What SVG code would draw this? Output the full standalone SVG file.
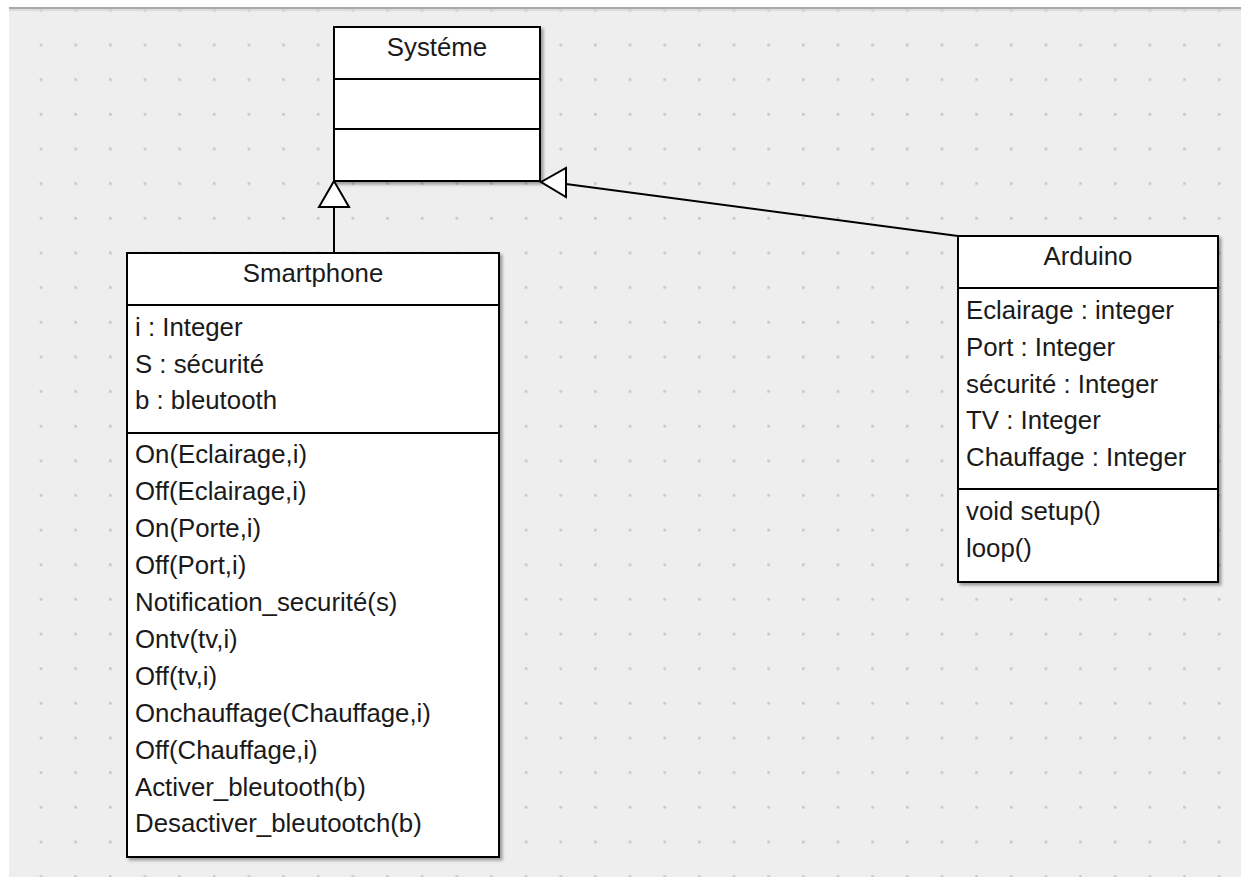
<svg xmlns="http://www.w3.org/2000/svg" width="1241" height="877" viewBox="0 0 1241 877">
<style>
.box{fill:#ffffff;stroke:#000000;stroke-width:2;filter:url(#sh)}
.div{stroke:#000000;stroke-width:2}
.t{font-family:"Liberation Sans",Arial,sans-serif;font-size:25.8px;fill:#1a1a1a}
.c{text-anchor:middle}
.edge{stroke:#000000;stroke-width:2;fill:none}
.tri{fill:#ffffff;stroke:#000000;stroke-width:2;stroke-linejoin:miter}
</style>
<defs>
<filter id="sh" x="-10%" y="-10%" width="130%" height="130%">
<feDropShadow dx="2.5" dy="2.5" stdDeviation="1.5" flood-color="#000000" flood-opacity="0.35"/>
</filter>
<pattern id="grid" x="39.7" y="43.7" width="34.65" height="34.65" patternUnits="userSpaceOnUse">
<rect x="0" y="0" width="2.6" height="2.6" fill="#c6c6c6"/>
</pattern>
</defs>
<rect x="0" y="0" width="1241" height="877" fill="#ffffff"/>
<rect x="9" y="9" width="1232" height="868" fill="#eeeeee"/>
<rect x="9" y="9" width="1232" height="868" fill="url(#grid)"/>
<line x1="9" y1="8" x2="1241" y2="8" stroke="#a9a9a9" stroke-width="2"/>
<line x1="9" y1="10" x2="1241" y2="10" stroke="#d6d6d6" stroke-width="1.5"/>

<g id="connectors">
<line class="edge" x1="334" y1="207" x2="334" y2="253"/>
<polygon class="tri" points="334,181 319,207 349,207"/>
<line class="edge" x1="566" y1="184" x2="958" y2="236"/>
<polygon class="tri" points="541,182 566,168 566,197"/>
</g>

<g id="systeme">
<rect class="box" x="334" y="27" width="206" height="154"/>
<line class="div" x1="334" y1="79" x2="540" y2="79"/>
<line class="div" x1="334" y1="129" x2="540" y2="129"/>
<text class="t c" x="437" y="56">Systéme</text>
</g>

<g id="smartphone">
<rect class="box" x="127" y="253" width="372" height="604"/>
<line class="div" x1="127" y1="305" x2="499" y2="305"/>
<line class="div" x1="127" y1="433" x2="499" y2="433"/>
<text class="t c" x="313" y="282">Smartphone</text>
<text class="t" x="135" y="336">i : Integer</text>
<text class="t" x="135" y="373">S : sécurité</text>
<text class="t" x="135" y="409">b : bleutooth</text>
<text class="t" x="135" y="463">On(Eclairage,i)</text>
<text class="t" x="135" y="500">Off(Eclairage,i)</text>
<text class="t" x="135" y="537">On(Porte,i)</text>
<text class="t" x="135" y="574">Off(Port,i)</text>
<text class="t" x="135" y="611">Notification_securité(s)</text>
<text class="t" x="135" y="648">Ontv(tv,i)</text>
<text class="t" x="135" y="685">Off(tv,i)</text>
<text class="t" x="135" y="722">Onchauffage(Chauffage,i)</text>
<text class="t" x="135" y="759">Off(Chauffage,i)</text>
<text class="t" x="135" y="796">Activer_bleutooth(b)</text>
<text class="t" x="135" y="832">Desactiver_bleutootch(b)</text>
</g>

<g id="arduino">
<rect class="box" x="958" y="236" width="260" height="346"/>
<line class="div" x1="958" y1="288" x2="1218" y2="288"/>
<line class="div" x1="958" y1="489" x2="1218" y2="489"/>
<text class="t c" x="1088" y="265">Arduino</text>
<text class="t" x="966" y="319">Eclairage : integer</text>
<text class="t" x="966" y="356">Port : Integer</text>
<text class="t" x="966" y="393">sécurité : Integer</text>
<text class="t" x="966" y="429">TV : Integer</text>
<text class="t" x="966" y="466">Chauffage : Integer</text>
<text class="t" x="966" y="520">void setup()</text>
<text class="t" x="966" y="557">loop()</text>
</g>
</svg>
